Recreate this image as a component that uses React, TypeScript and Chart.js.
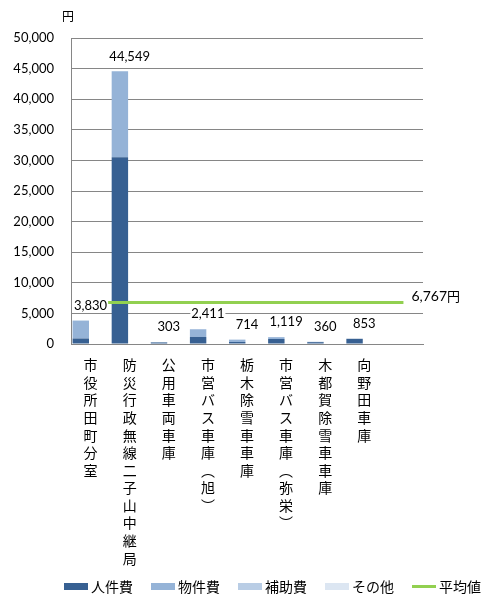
import React, { useEffect, useRef } from "react";
import { Chart, registerables } from "chart.js";

Chart.register(...registerables);

const categories: string[] = [
  "市役所田町分室",
  "防災行政無線二子山中継局",
  "公用車両車庫",
  "市営バス車庫︵旭︶",
  "栃木除雪車車庫",
  "市営バス車庫︵弥栄︶",
  "木都賀除雪車車庫",
  "向野田車庫",
  "",
];
const personnel: (number | null)[] = [900, 30500, 250, 1150, 330, 820, 300, 853, null];
const goods: (number | null)[] = [2930, 14049, 53, 1261, 384, 299, 60, 0, null];
const subsidy: (number | null)[] = [0, 0, 0, 0, 0, 0, 0, 0, null];
const other: (number | null)[] = [0, 0, 0, 0, 0, 0, 0, 0, null];
const totals: number[] = [3830, 44549, 303, 2411, 714, 1119, 360, 853];
const averageValue = 6767;
const averageSpan: number[] = [-0.4, 8];
const seriesNames = ["人件費", "物件費", "補助費", "その他", "平均値"];
const yMax = 50000;
const yStep = 5000;

const fmt = (v: number) => v.toLocaleString("en-US");
const JP = '"Noto Sans CJK JP", sans-serif';
const NUM = 'Lato, "Noto Sans", sans-serif';

const labelPlugin = {
  id: "valueLabels",
  afterDatasetsDraw(chart: any) {
    const ctx = chart.ctx;
    const xs = chart.scales.x;
    const ys = chart.scales.y;
    const xl = chart.scales.xLine;
    ctx.save();
    ctx.font = `13px ${NUM}`;
    ctx.textAlign = "center";
    ctx.textBaseline = "middle";
    totals.forEach((t, i) => {
      const x = xs.getPixelForValue(i);
      const y = ys.getPixelForValue(t) - 15;
      const txt = fmt(t);
      const w = ctx.measureText(txt).width;
      ctx.fillStyle = "#ffffff";
      ctx.fillRect(x - w / 2 - 1, y - 6, w + 2, 13);
      ctx.fillStyle = "#000000";
      ctx.fillText(txt, x, y);
    });
    // average label
    ctx.textAlign = "left";
    ctx.font = `14px ${NUM}`;
    const ax = xl.getPixelForValue(averageSpan[1]) + 8;
    const ay = ys.getPixelForValue(averageValue) - 6.5;
    const num = fmt(averageValue);
    ctx.fillText(num, ax, ay);
    const nw = ctx.measureText(num).width;
    ctx.font = `13px ${JP}`;
    ctx.fillText("円", ax + nw, ay);
    // unit label
    ctx.textAlign = "center";
    ctx.font = `12px ${JP}`;
    ctx.fillText("円", chart.chartArea.left - 3, chart.chartArea.top - 22);
    ctx.restore();
  },
};

const legendPlugin = {
  id: "customLegend",
  afterDraw(chart: any) {
    const ctx = chart.ctx;
    const ds = chart.data.datasets;
    const sw = 24;
    const gapText = 3;
    const gapItem = 18;
    ctx.save();
    ctx.font = `14px ${JP}`;
    ctx.textBaseline = "middle";
    ctx.textAlign = "left";
    const widths = ds.map((d: any) => sw + gapText + ctx.measureText(d.label).width);
    let x = chart.chartArea.left - 7;
    const y = chart.height - 7.5;
    ds.forEach((d: any, i: number) => {
      if (d.type === "line") {
        ctx.strokeStyle = d.borderColor;
        ctx.lineWidth = 3;
        ctx.beginPath();
        ctx.moveTo(x, y);
        ctx.lineTo(x + sw, y);
        ctx.stroke();
      } else {
        ctx.fillStyle = d.backgroundColor;
        ctx.fillRect(x, y - 3.5, sw, 7);
      }
      ctx.fillStyle = "#000";
      ctx.fillText(d.label, x + sw + gapText, y);
      x += widths[i] + gapItem;
    });
    ctx.restore();
  },
};

export default function App() {
  const ref = useRef<HTMLCanvasElement | null>(null);
  useEffect(() => {
    if (!ref.current) return;
    const colors = ["#376092", "#95B3D7", "#B9CDE5", "#DCE6F2"];
    const barSeries = [personnel, goods, subsidy, other];
    const chart = new Chart(ref.current, {
      type: "bar",
      data: {
        labels: categories.map((c) => (c ? Array.from(c) : "")),
        datasets: [
          ...barSeries.map((d, k) => ({
            type: "bar" as const,
            label: seriesNames[k],
            data: d,
            backgroundColor: colors[k],
            borderWidth: 0,
            xAxisID: "x",
            stack: "s",
            categoryPercentage: 1,
            barPercentage: 0.84,
            order: 2,
          })),
          {
            type: "line" as const,
            label: seriesNames[4],
            data: averageSpan.map((x) => ({ x, y: averageValue })),
            borderColor: "#92D050",
            backgroundColor: "#92D050",
            borderWidth: 3,
            pointRadius: 0,
            xAxisID: "xLine",
            stack: "avg",
            order: 1,
          } as any,
        ],
      },
      options: {
        animation: false,
        responsive: true,
        maintainAspectRatio: false,
        layout: { padding: { top: 38, right: 64, left: 0, bottom: 28 } },
        scales: {
          x: {
            type: "category",
            offset: true,
            grid: { display: false, drawTicks: false },
            border: { display: true, color: "#868686", width: 1 },
            ticks: {
              autoSkip: false,
              maxRotation: 0,
              minRotation: 0,
              padding: 12,
              color: "#000",
              font: { family: JP, size: 14, lineHeight: 1.257 },
            },
            afterFit: (s: any) => {
              s.height = 222;
            },
          },
          xLine: {
            type: "linear",
            display: false,
            offset: false,
            bounds: "data",
            min: -0.5,
            max: 8.5,
          },
          y: {
            stacked: true,
            min: 0,
            max: yMax,
            ticks: {
              stepSize: yStep,
              padding: 17,
              color: "#000",
              font: { family: NUM, size: 13 },
              callback: (v: any) => fmt(Number(v)),
            },
            grid: { color: "#868686", drawTicks: false },
            border: { display: true, color: "#868686" },
            afterFit: (s: any) => {
              s.width = 71;
            },
          },
        },
        plugins: {
          legend: { display: false },
          tooltip: { enabled: false },
        },
      },
      plugins: [labelPlugin, legendPlugin],
    });
    return () => chart.destroy();
  }, []);
  return (
    <div style={{ position: "fixed", left: 0, top: 0, width: 487, height: 594, background: "#fff" }}>
      <canvas ref={ref} />
    </div>
  );
}
